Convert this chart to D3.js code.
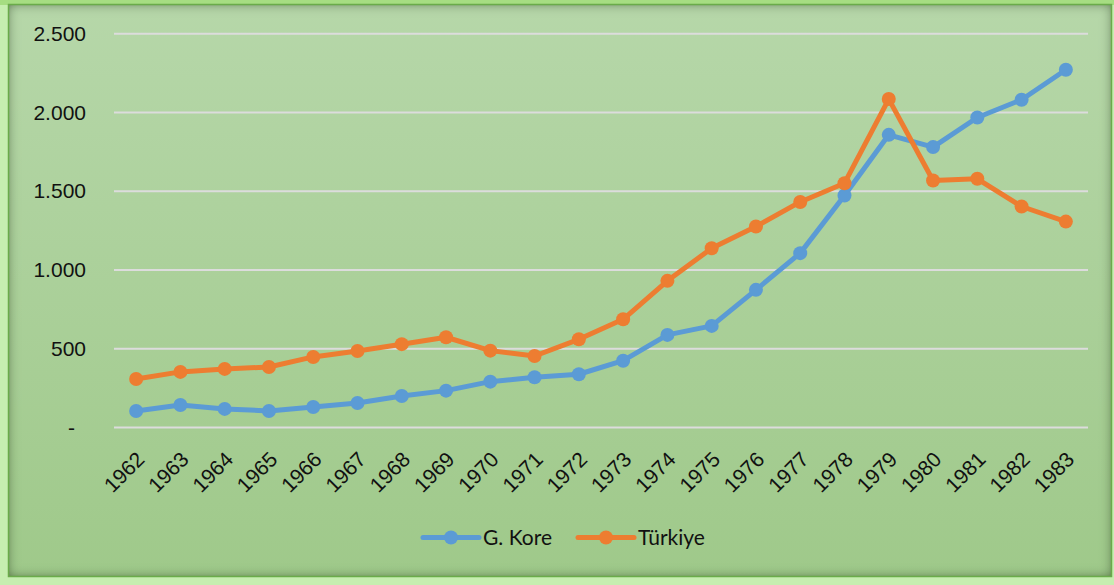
<!DOCTYPE html>
<html>
<head>
<meta charset="utf-8">
<script src="https://d3js.org/d3.v7.min.js"></script>
<style>
  body { margin: 0; padding: 0; background: #c6eeb0; }
  svg { display: block; font-family: Lato, "Open Sans", sans-serif; }
  .grid line { stroke: #dcdcdc; stroke-width: 2; }
  .tick text { fill: #111; font-size: 21px; }
</style>
</head>
<body>
<div id="chart"></div>
<script>
var years = ["1962","1963","1964","1965","1966","1967","1968","1969","1970","1971","1972",
             "1973","1974","1975","1976","1977","1978","1979","1980","1981","1982","1983"];
var kore = [105, 143, 118, 105, 130, 156, 200, 234, 291, 319, 338,
            424, 588, 645, 874, 1107, 1473, 1858, 1780, 1968, 2081, 2271];
var turkiye = [308, 353, 372, 384, 448, 486, 529, 573, 488, 454, 560,
               687, 931, 1138, 1276, 1432, 1551, 2085, 1568, 1579, 1403, 1307];
var yTicks = [0, 500, 1000, 1500, 2000, 2500];
var seriesNames = ["G. Kore", "Türkiye"];
var colors = ["#5b9bd5", "#ed7d31"];

var W = 1114, H = 585;
var svg = d3.select("#chart").append("svg").attr("width", W).attr("height", H);
var defs = svg.append("defs");

var grad = defs.append("linearGradient").attr("id", "bg").attr("x1", 0).attr("y1", 0).attr("x2", 0).attr("y2", 1);
grad.append("stop").attr("offset", "0%").attr("stop-color", "#b6d7a9");
grad.append("stop").attr("offset", "100%").attr("stop-color", "#9fc98a");

// inner shadow
var f = defs.append("filter").attr("id", "inset").attr("x", "-5%").attr("y", "-5%").attr("width", "110%").attr("height", "110%");
f.append("feFlood").attr("flood-color", "#1f3a12").attr("flood-opacity", 0.9).attr("result", "c");
f.append("feComposite").attr("in", "c").attr("in2", "SourceAlpha").attr("operator", "out").attr("result", "o");
f.append("feGaussianBlur").attr("in", "o").attr("stdDeviation", 6).attr("result", "b");
f.append("feComposite").attr("in", "b").attr("in2", "SourceAlpha").attr("operator", "in").attr("result", "s");
var fm = f.append("feMerge");
fm.append("feMergeNode").attr("in", "SourceGraphic");
fm.append("feMergeNode").attr("in", "s");

// frame
svg.append("rect").attr("x", 0).attr("y", 0).attr("width", W).attr("height", H).attr("fill", "#c6eeb0");
svg.append("rect").attr("x", 0).attr("y", 0).attr("width", W).attr("height", 5).attr("fill", "#a6dd82");
svg.append("rect").attr("x", 8).attr("y", 4).attr("width", 1104).attr("height", 573)
  .attr("fill", "url(#bg)").attr("filter", "url(#inset)");
svg.append("rect").attr("x", 8.5).attr("y", 4.5).attr("width", 1103).attr("height", 572)
  .attr("fill", "none").attr("stroke", "#6aab4a").attr("stroke-width", 1.5);

var x = d3.scalePoint().domain(years).range([114, 1088]).padding(0.5);
var y = d3.scaleLinear().domain([0, 2500]).range([427.5, 33.7]);

// gridlines
svg.append("g").attr("class", "grid")
  .selectAll("line").data(yTicks).join("line")
  .attr("x1", 114).attr("x2", 1088)
  .attr("y1", function(d) { return y(d); }).attr("y2", function(d) { return y(d); });

// y axis
var fmt = function(d) { return d === 0 ? "-" : d3.format(",")(d).replace(/,/g, "."); };
var yAxis = svg.append("g").attr("transform", "translate(86,0)")
  .call(d3.axisLeft(y).tickValues(yTicks).tickFormat(fmt).tickSize(0).tickPadding(0));
yAxis.select(".domain").remove();
yAxis.selectAll(".tick text").attr("font-family", null).attr("font-size", null)
  .attr("dx", function(d) { return d === 0 ? -11 : 0; });

// x axis
var xAxis = svg.append("g").attr("transform", "translate(0,427.5)")
  .call(d3.axisBottom(x).tickSize(0).tickPadding(0));
xAxis.select(".domain").remove();
xAxis.selectAll(".tick text").attr("font-family", null).attr("font-size", null)
  .attr("text-anchor", "end")
  .attr("dy", "0.35em")
  .attr("transform", "translate(4,28) rotate(-45)");

// lines
var line = d3.line().x(function(d, i) { return x(years[i]); }).y(function(d) { return y(d); });
[kore, turkiye].forEach(function(s, k) {
  var g = svg.append("g");
  g.append("path").datum(s).attr("d", line).attr("fill", "none")
    .attr("stroke", colors[k]).attr("stroke-width", 5).attr("stroke-linejoin", "round");
  g.selectAll("circle").data(s).join("circle")
    .attr("cx", function(d, i) { return x(years[i]); })
    .attr("cy", function(d) { return y(d); })
    .attr("r", 7).attr("fill", colors[k]);
});

// legend
var legX = [423, 578];
var leg = svg.append("g").selectAll("g").data(seriesNames).join("g")
  .attr("transform", function(d, i) { return "translate(" + legX[i] + ",537.5)"; });
leg.append("line").attr("x1", 0).attr("x2", 56).attr("y1", 0).attr("y2", 0)
  .attr("stroke", function(d, i) { return colors[i]; }).attr("stroke-width", 5).attr("stroke-linecap", "round");
leg.append("circle").attr("cx", 28).attr("r", 7).attr("fill", function(d, i) { return colors[i]; });
leg.append("text").attr("x", 60).attr("dy", "0.35em").attr("font-size", 21).attr("fill", "#111")
  .text(function(d) { return d; });
</script>
</body>
</html>
